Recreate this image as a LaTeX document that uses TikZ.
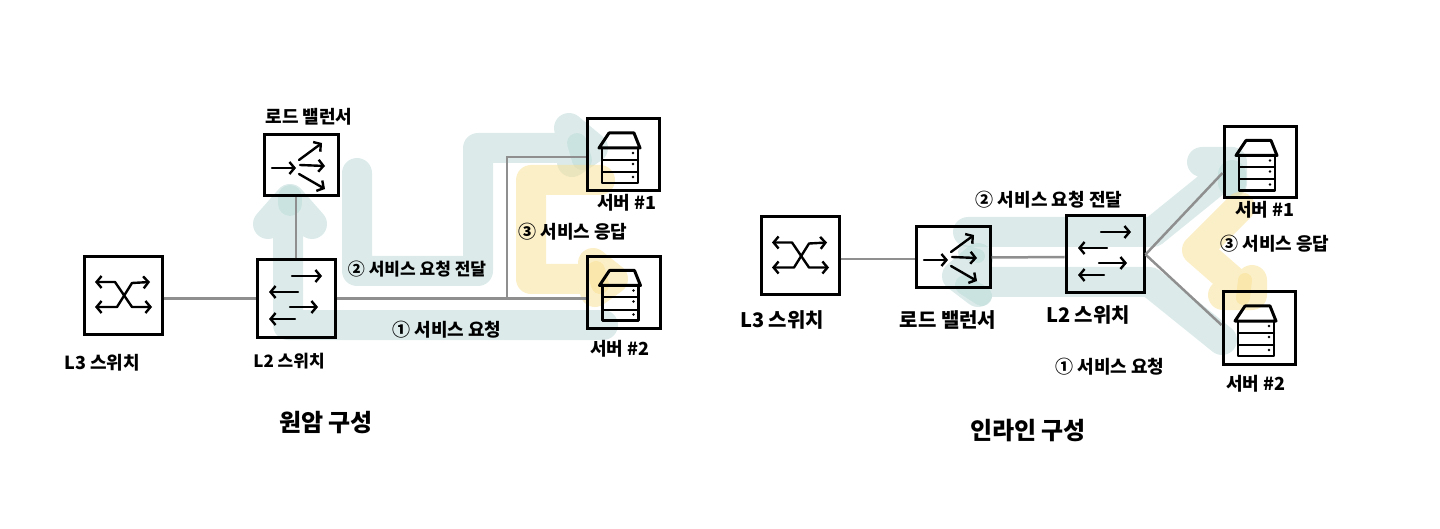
\documentclass[tikz,border=0pt]{standalone}
\usepackage{fontspec}
\usetikzlibrary{arrows.meta}
\newfontfamily\cjk{Noto Sans CJK KR}
\definecolor{bandteal}{HTML}{B9D8D6}
\definecolor{bandyellow}{HTML}{F8DF91}
\definecolor{wire}{HTML}{8F8F8F}
\tikzset{
  tealband/.style={draw=bandteal,opacity=.5,line width=30pt,line cap=round,line join=round},
  yellowband/.style={draw=bandyellow,opacity=.5,line width=30pt,line cap=round,line join=round},
  devbox/.style={draw=black,line width=3pt,minimum width=#1,inner sep=0pt},
  link/.style={draw=wire,line width=2.5pt},
  glyph/.style={line width=2.4pt,line cap=round,line join=round},
  barb/.tip={Straight Barb[length=5pt,width=12pt,line width=2.4pt]},
  arw/.style={glyph,-barb},
  hand/.style={inner sep=0pt,font=\cjk\bfseries\fontsize{#1}{#1}\selectfont},
  hand/.default=18pt,
  l3icon/.pic={
    \draw[glyph,barb-barb] (-28,-13.5) -- (-8,-13.5) -- (9,11.5) -- (29,11.5);
    \draw[glyph,barb-barb] (-28,11.5) -- (-6,11.5) -- (9,-12.5) -- (27,-13.5);
  },
  l2icon/.pic={
    \draw[arw] (-4,-22.5) -- (26,-22.5);
    \draw[arw] (2,-6.5) -- (-27,-6.5);
    \draw[arw] (-6,8.5) -- (22,8.5);
    \draw[arw] (-1,20.5) -- (-27,20.5);
  },
  lbicon/.pic={
    \draw[arw] (-29,2.5) -- (-5,2.5);
    \draw[arw] (-1,-.5) -- (24,.5);
    \draw[arw] (-2,-5.5) -- (21,-22.5);
    \draw[arw] (-2,8.5) -- (24,23.5);
  },
  srvicon/.pic={
    \draw[glyph,line width=3pt] (-24,-7) -- (-14,-22) -- (11,-22) -- (17,-7) -- cycle;
    \draw[glyph] (-21,-7) rectangle (15,28);
    \draw[glyph,line width=2pt] (-21,5) -- (15,5);
    \draw[glyph,line width=2pt] (-21,17) -- (15,17);
    \fill (10,-2) circle (1.4pt) (10,9) circle (1.4pt) (10,22) circle (1.4pt);
  }
}
\begin{document}
\begin{tikzpicture}[x=1pt,y=-1pt]
\useasboundingbox (0,0) rectangle (1440,529);
% --- highlight bands, one-arm ---
\draw[tealband] (603,325) -- (288,325) -- (288,205) (268,224) -- (290,199) -- (312,224);
\draw[tealband,line width=24pt] (290,197) -- (290,204);
\draw[tealband] (357,173) -- (357,271) -- (478,271) -- (478,148) -- (590,148) (569,128) -- (593,148) -- (572,162);
\draw[tealband,line width=20pt] (577,143) -- (582,160);
\draw[yellowband] (600,180) -- (531,180) -- (531,279) -- (608,279) (593,263) -- (613,279) -- (595,292);
\draw[yellowband,line width=18pt] (596,270) -- (600,285);
% --- highlight bands, inline ---
\draw[tealband] (968,232) -- (1153,232) -- (1232,168) (1202,162) -- (1232,162) -- (1232,183);
\draw[tealband,line width=28pt] (1232,174) -- (1232,183);
\draw[tealband] (1222,340) -- (1150,282) -- (965,282) (978,258) -- (957,276) -- (978,292);
\draw[tealband,line width=14pt] (965,252) -- (978,256);
\draw[tealband,line width=20pt] (965,285) -- (982,296);
\draw[yellowband] (1240,207) -- (1197,250) -- (1245,292) (1252,280) -- (1252,295) -- (1223,295);
\draw[yellowband,line width=14pt] (1245,280) -- (1243,298);
% --- devices, one-arm ---
\node[devbox=78pt,minimum height=77pt] (l3a) at (123,295.5) {};
\node[devbox=78pt,minimum height=77pt] (l2a) at (296,298.5) {};
\node[devbox=74pt,minimum height=61pt] (lba) at (301,165.5) {};
\node[devbox=72pt,minimum height=72pt] (s1a) at (623,155) {};
\node[devbox=73pt,minimum height=71pt] (s2a) at (623.5,292.5) {};
\pic at (l3a) {l3icon};
\pic at (l2a) {l2icon};
\pic at (lba) {lbicon};
\pic at (s1a) {srvicon};
\pic at (s2a) {srvicon};
% --- devices, inline ---
\node[devbox=78pt,minimum height=78pt] (l3b) at (800,256) {};
\node[devbox=74pt,minimum height=61pt] (lbb) at (953,257.5) {};
\node[devbox=78pt,minimum height=77pt] (l2b) at (1105,254.5) {};
\node[devbox=72pt,minimum height=71pt] (s1b) at (1260,162.5) {};
\node[devbox=72pt,minimum height=72pt] (s2b) at (1259,328) {};
\pic at (l3b) {l3icon};
\pic at (lbb) {lbicon};
\pic at (l2b) {l2icon};
\pic at (s1b) {srvicon};
\pic at (s2b) {srvicon};
% --- links, one-arm ---
\coordinate (tapa) at (507,298);
\draw[link] (l3a.east |- l2a.west) -- (l2a.west);
\draw[link] (l2a.north) -- (l2a.north |- lba.south);
\draw[link] (l2a.east) -- (s2a.west |- l2a.east);
\draw[link] (tapa) |- ([yshift=-2pt]s1a.west);
% --- links, inline ---
\draw[link] ([yshift=-3pt]l3b.east) -- ([yshift=-1.5pt]lbb.west);
\draw[link] (lbb.east) -- ([yshift=-2.5pt]l2b.west);
\draw[link] (l2b.east) -- ([yshift=-10.5pt]s1b.west);
\draw[link] (l2b.east) -- ([yshift=3pt]s2b.west);
% --- labels, one-arm ---
\node[hand] (t1) at (309,117) {로드 밸런서};
\node[hand] (t2) at (102,363) {L3 스위치};
\node[hand=17pt] (t3) at (289,361) {L2 스위치};
\node[hand=17pt] (t4) at (417,269) {② 서비스 요청 전달};
\node[hand] (t5) at (447,330) {① 서비스 요청};
\node[hand] (t6) at (573,232) {③ 서비스 응답};
\node[hand] (t7) at (627,203) {서버 \#1};
\node[hand] (t8) at (620,349) {서버 \#2};
\node[hand=24pt] (t9) at (326,423) {원암 구성};
% --- labels, inline ---
\node[hand=20pt] (u1) at (782,320) {L3 스위치};
\node[hand=20pt] (u2) at (948,320) {로드 밸런서};
\node[hand=20pt] (u3) at (1088,315) {L2 스위치};
\node[hand] (u4) at (1049,200) {② 서비스 요청 전달};
\node[hand] (u5) at (1110,367) {① 서비스 요청};
\node[hand] (u6) at (1275,244) {③ 서비스 응답};
\node[hand] (u7) at (1265,210) {서버 \#1};
\node[hand] (u8) at (1256,384) {서버 \#2};
\node[hand=24pt] (u9) at (1028,431) {인라인 구성};
\end{tikzpicture}
\end{document}
